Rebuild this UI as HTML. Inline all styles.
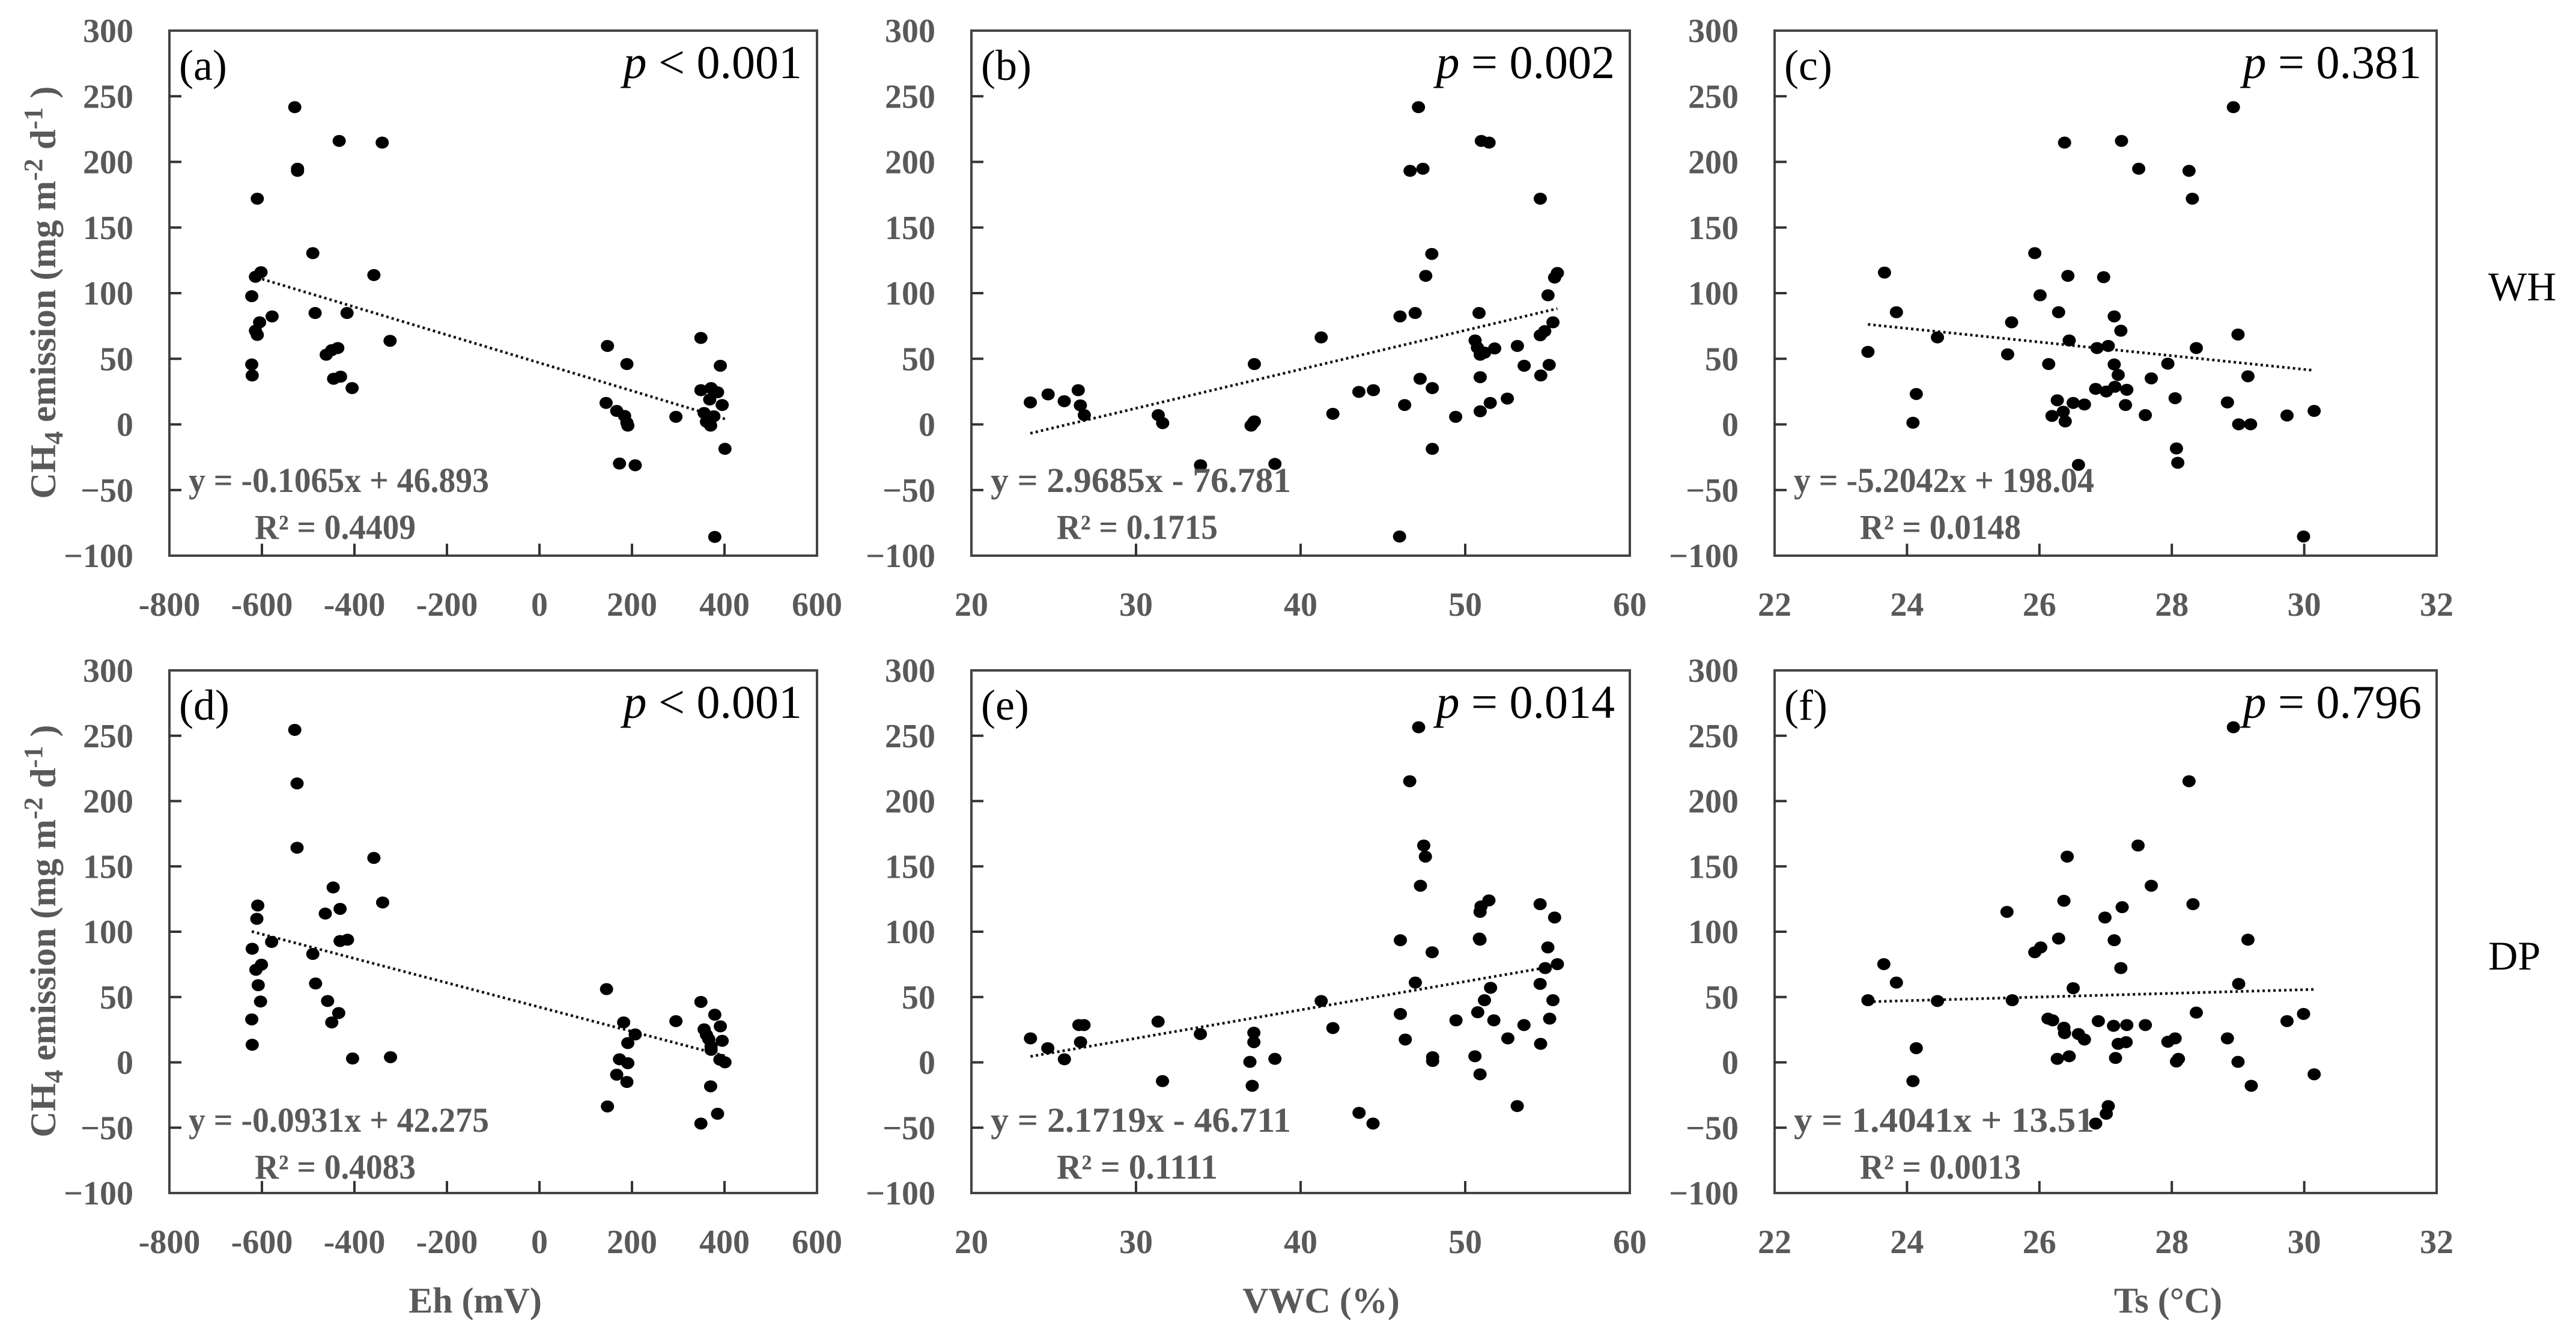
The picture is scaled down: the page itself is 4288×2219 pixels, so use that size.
<!DOCTYPE html>
<html><head><meta charset="utf-8"><style>
html,body{margin:0;padding:0;background:#fff;}
svg{display:block;}
text{font-family:"Liberation Serif",serif;}
.tick{font-weight:bold;fill:#595959;font-size:56px;}
.eq{font-weight:bold;fill:#595959;font-size:58px;}
.ttl{font-weight:bold;fill:#595959;font-size:60px;}
</style></head><body>
<svg id="fig" width="4288" height="2219" viewBox="0 0 4288 2219" xmlns="http://www.w3.org/2000/svg"></svg>
<script>
const yTicks=[300,250,200,150,100,50,0,-50,-100];
const yTickLabels=["300","250","200","150","100","50","0","\u221250","\u2212100"];
const ehTicks=[-800,-600,-400,-200,0,200,400,600];
const vwcTicks=[20,30,40,50,60];
const tsTicks=[22,24,26,28,30,32];

const aX=[-529,-433,-340,-523,-523,-610,-490,-602,-614,-358,-622,-485,-416,-578,-605,-614,-610,-323,-461,-449,-436,-622,-621,-445,-430,-405,147,349,189,391,349,385,371,368,144,167,184,189,191,295,356,361,370,377,395,401,173,207,379];
const aY=[242.6,216.9,215.6,195.7,194.1,172.9,131.4,116.9,113.4,114.7,98.6,85.8,85.8,83.2,78.7,72.3,69.1,64.6,54.0,57.5,59.1,46.6,38.2,35.7,37.3,28.6,60.7,66.8,46.9,45.6,27.0,25.4,28.6,19.9,17.3,11.2,7.4,2.2,0,6.7,9.6,2.9,0,7.1,15.7,-17.7,-28.9,-30.2,-84.8];
const bX=[23.58,24.66,25.64,26.49,26.62,26.86,31.35,31.62,33.92,37.19,36.99,37.13,37.19,38.44,41.25,41.96,43.54,44.42,46.04,46.01,46.32,46.65,47.43,47.16,46.96,47.26,47.60,47.97,48.00,48.00,49.42,50.84,50.60,50.74,50.91,51.18,50.91,50.91,50.98,51.45,51.52,51.79,52.56,53.17,53.58,54.56,54.59,54.56,54.83,55.10,55.03,55.33,55.43,55.60];
const bY=[17.7,23.8,18.6,27.0,15.4,8.0,8.0,1.9,-30.2,46.9,0,2.2,3.2,-29.2,67.2,9.0,25.7,27.0,83.2,-84.5,15.7,194.1,195.7,242.6,85.8,35.7,114.1,130.8,28.6,-17.7,6.7,85.8,64.9,59.4,54.0,55.6,36.9,10.9,216.9,215.6,17.3,58.8,20.6,60.7,45.6,172.9,38.2,68.8,72.0,46.3,99.3,78.7,112.8,116.3];
const cX=[23.41,23.66,23.84,24.09,24.14,24.46,25.52,25.58,25.93,26.01,26.14,26.19,26.27,26.29,26.36,26.39,26.38,26.43,26.45,26.51,26.59,26.68,26.85,26.87,26.97,27.01,27.04,27.13,27.13,27.14,27.19,27.23,27.24,27.30,27.32,27.50,27.60,27.69,27.94,28.05,28.07,28.09,28.26,28.31,28.37,28.84,28.93,29.00,29.01,29.15,29.19,29.74,29.99,30.15];
const cY=[56.2,116.6,86.4,2.2,24.1,67.2,54.3,78.7,131.4,99.3,46.9,7.4,19.3,86.4,10.6,3.2,215.6,114.1,64.9,17.3,-29.9,16.1,28.0,59.1,113.1,26.0,60.7,83.2,46.6,29.6,38.6,72.3,216.9,15.7,27.3,195.7,8.0,36.0,47.2,20.9,-17.4,-28.3,194.1,172.9,59.1,17.7,242.6,69.4,1.0,37.6,1.0,7.7,-84.5,11.2];
const dX=[-529,-524,-524,-358,-446,-339,-609,-611,-463,-431,-431,-415,-621,-579,-490,-601,-613,-484,-608,-603,-458,-434,-449,-622,-621,-404,-322,145,349,379,182,295,356,361,366,371,391,395,371,207,191,173,191,390,401,167,189,370,147,385,349];
const dY=[255.4,214.4,165.2,157.4,134.8,123.3,121.0,110.8,114.8,118.4,93.8,94.8,87.9,93.1,83.9,75.7,71.8,61.3,60.0,47.5,47.9,38.7,31.5,33.8,14.4,3.9,4.9,57.0,47.2,37.4,31.5,32.5,26.2,22.0,18.7,13.1,28.5,17.4,10.5,22.3,15.7,3.3,0.3,3.0,1.0,-8.5,-14.1,-17.4,-32.8,-38.4,-45.9];
const eX=[23.59,24.64,25.65,26.53,26.84,26.63,31.34,31.61,33.91,36.92,37.16,37.16,37.06,38.44,41.25,41.96,43.55,44.40,46.06,46.06,46.36,46.63,47.48,47.58,47.28,46.97,47.99,48.02,48.02,49.44,50.59,50.90,50.76,50.86,50.90,50.90,50.96,51.17,51.44,51.54,51.74,52.59,53.16,53.57,54.55,54.55,54.58,54.86,55.02,55.13,55.33,55.43,55.60,47.17];
const eY=[19.3,11.8,3.3,29.5,29.5,16.4,32.1,-13.4,22.6,1.3,23.6,16.4,-17.0,3.6,47.9,27.2,-37.7,-45.9,94.4,38.0,18.4,216.1,166.9,158.4,136.1,62.0,85.2,4.9,2.0,33.1,5.6,-8.2,39.3,95.7,94.8,116.1,120.3,48.5,124.9,58.0,33.1,19.3,-32.5,29.5,122.0,61.0,15.1,73.1,88.9,34.4,48.5,111.8,76.1,257.4];
const fX=[23.41,23.65,23.84,24.09,24.14,24.46,25.51,25.59,25.93,26.02,26.13,26.20,26.27,26.29,26.37,26.38,26.37,26.42,26.45,26.51,26.59,26.68,26.85,26.89,26.99,27.01,27.04,27.12,27.13,27.15,27.19,27.23,27.25,27.31,27.32,27.49,27.60,27.69,27.94,28.05,28.07,28.10,28.26,28.32,28.37,28.84,28.93,29.00,29.01,29.15,29.20,29.74,29.99,30.15];
const fY=[48.5,76.1,62.0,-13.4,11.8,47.9,116.1,48.5,85.2,88.9,34.4,33.1,3.6,95.7,27.5,23.3,124.6,158.4,5.6,57.7,22.6,18.4,-45.9,32.5,111.8,-38.4,-32.5,28.9,94.4,4.3,15.1,73.1,119.7,16.4,29.5,166.9,29.5,136.1,16.7,19.3,1.6,3.6,216.1,122.0,39.0,19.3,257.4,1.3,61.0,94.8,-17.0,32.5,38.0,-8.2];

const slopes=[-0.1065,2.9685,-5.2042,-0.0931,2.1719,1.4041];
const intercepts=[46.893,-76.781,198.04,42.275,-46.711,13.51];
const eqLabels=["y = -0.1065x + 46.893","y = 2.9685x - 76.781","y = -5.2042x + 198.04","y = -0.0931x + 42.275","y = 2.1719x - 46.711","y = 1.4041x + 13.51"];
const r2Labels=["0.4409","0.1715","0.0148","0.4083","0.1111","0.0013"];
const pOps=["<","=","=","<","=","="];
const pVals=["0.001","0.002","0.381","0.001","0.014","0.796"];
const letters=["(a)","(b)","(c)","(d)","(e)","(f)"];

const NS="http://www.w3.org/2000/svg";
const svg=document.getElementById('fig');
function mk(tag,attrs,parent){const e=document.createElementNS(NS,tag);for(const k in attrs)e.setAttribute(k,attrs[k]);(parent||svg).appendChild(e);return e;}

const cols=[[282,1360],[1617,2713],[2954,4056]];
const rows=[[51,925],[1116,1986]];
const xTickSets=[ehTicks,vwcTicks,tsTicks];
const xs=[aX,bX,cX,dX,eX,fX], ys=[aY,bY,cY,dY,eY,fY];

for(let i=0;i<6;i++){
  const r=Math.floor(i/3), c=i%3;
  const L=cols[c][0],R=cols[c][1],T=rows[r][0],B=rows[r][1];
  const xt=xTickSets[c];
  const xmin=xt[0],xmax=xt[xt.length-1];
  const sx=v=>L+(v-xmin)/(xmax-xmin)*(R-L);
  const sy=v=>T+(300-v)/400*(B-T);
  const g=mk('g',{});
  
  
  const fr=mk('rect',{x:L,y:T,width:R-L,height:B-T,fill:'none',stroke:'#444',"stroke-width":4},g);
  
  
  yTicks.forEach((v,k)=>{
    const y=sy(v);
    if(k>0&&k<yTicks.length-1){const tl=mk('line',{x1:L,x2:L+20,y1:y,y2:y,stroke:'#333',"stroke-width":4},g);
      }
    const t=mk('text',{x:L-60,y:y+19,"text-anchor":"end",class:"tick"},g);
    
    
    t.textContent=yTickLabels[k];
  });
  xt.forEach((v,k)=>{
    const x=sx(v);
    if(k>0&&k<xt.length-1){const tl=mk('line',{x1:x,x2:x,y1:B,y2:B-20,stroke:'#333',"stroke-width":4},g);
      }
    const t=mk('text',{x:x,y:B+100,"text-anchor":"middle",class:"tick"},g);
    
    
    t.textContent=String(v);
  });
  const X=xs[i],Y=ys[i];
  const lo=Math.min(...X),hi=Math.max(...X);
  const tr=mk('line',{x1:sx(lo),y1:sy(slopes[i]*lo+intercepts[i]),x2:sx(hi),y2:sy(slopes[i]*hi+intercepts[i]),stroke:'#111',"stroke-width":4.5,"stroke-dasharray":"4 5"},g);
  
  
  for(let k=0;k<X.length;k++){
    const d=mk('ellipse',{cx:sx(X[k]),cy:sy(Y[k])+2,rx:11,ry:10,fill:'#000'},g);
    
    
  }
  const lt=mk('text',{x:L+16,y:T+82,"font-size":72,fill:"#000"},g);
  
  
  lt.textContent=letters[i];
  const pt=mk('text',{x:R-25,y:T+79,"font-size":78,fill:"#000","text-anchor":"end"},g);
  
  
  pt.innerHTML='<tspan font-style="italic">p</tspan> '+(pOps[i]=='<'?'&lt;':'=')+' '+pVals[i];
  const eq=mk('text',{x:L+32,y:T+768,class:"eq",textLength:500,lengthAdjust:"spacingAndGlyphs"},g);
  
  
  eq.textContent=eqLabels[i];
  const r2=mk('text',{x:L+142,y:T+846,class:"eq",textLength:268,lengthAdjust:"spacingAndGlyphs"},g);
  
  
  r2.textContent='R\u00B2 = '+r2Labels[i];
}
[487,1550].forEach(cy=>{
  const t=mk('text',{x:0,y:0,transform:`translate(92,${cy}) rotate(-90)`,"text-anchor":"middle",class:"ttl","font-size":68,textLength:687,lengthAdjust:"spacingAndGlyphs"});
  
  
  t.innerHTML='CH<tspan font-size="44" dy="12">4</tspan><tspan dy="-12">  emission (mg m</tspan><tspan font-size="44" dy="-22">-2</tspan><tspan dy="22"> d</tspan><tspan font-size="44" dy="-22">-1</tspan><tspan dy="22"> )</tspan>';
});
[["Eh (mV)",791],["VWC (%)",2199],["Ts (\u00B0C)",3609]].forEach(([s,x])=>{
  const t=mk('text',{x:x,y:2185,"text-anchor":"middle",class:"ttl"});
  
  
  t.textContent=s;
});
[["WH",500],["DP",1614]].forEach(([s,y])=>{
  const t=mk('text',{x:4142,y:y,"font-size":68,fill:"#000"});
  
  
  t.textContent=s;
});
</script>
</body></html>
